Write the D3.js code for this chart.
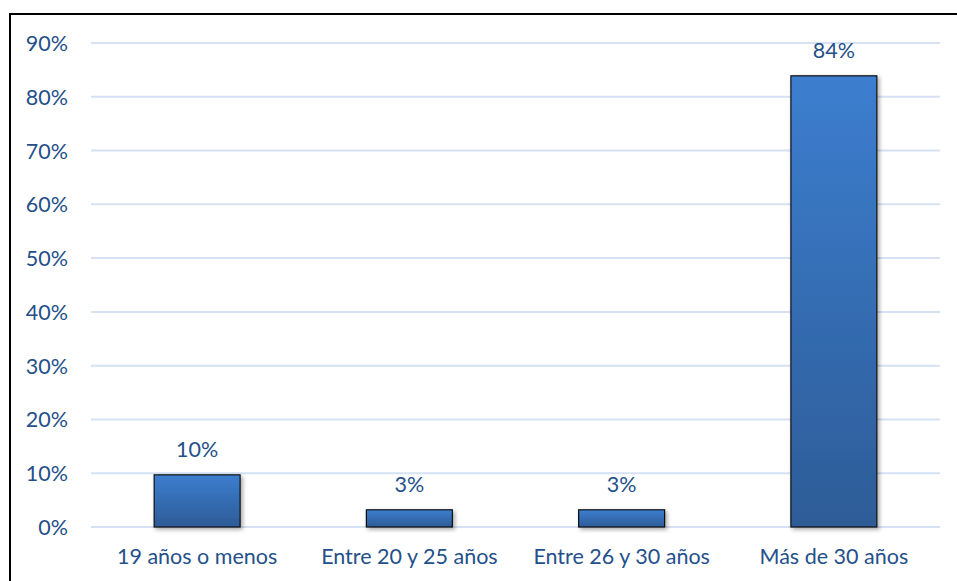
<!DOCTYPE html>
<html><head><meta charset="utf-8">
<script src="https://cdn.jsdelivr.net/npm/d3@7"></script>
<style>body{margin:0;background:#fff}svg{display:block}</style>
</head><body><svg id="c" width="957" height="581"></svg>
<script>
const categories = ["19 años o menos", "Entre 20 y 25 años", "Entre 26 y 30 años", "Más de 30 años"];
const values = [9.7, 3.2, 3.2, 83.9];
const valueLabels = ["10%", "3%", "3%", "84%"];
const yTicks = [0, 10, 20, 30, 40, 50, 60, 70, 80, 90];

const svg = d3.select("#c");
const W = 957, H = 581;
const m = {left: 91, right: 17, top: 43, bottom: 54};
const font = "Lato, 'Open Sans', sans-serif";
const txt = "#24508A";
const fs = 21.5;

const defs = svg.append("defs");
const g = defs.append("linearGradient").attr("id", "bg").attr("x1", 0).attr("y1", 0).attr("x2", 0).attr("y2", 1);
g.append("stop").attr("offset", "0%").attr("stop-color", "#3C7ECF");
g.append("stop").attr("offset", "100%").attr("stop-color", "#2D5C97");
const f = defs.append("filter").attr("id", "sh").attr("x", "-20%").attr("y", "-20%").attr("width", "150%").attr("height", "150%");
f.append("feDropShadow").attr("dx", 2).attr("dy", 2).attr("stdDeviation", 2).attr("flood-color", "#000").attr("flood-opacity", 0.35);

// frame
svg.append("rect").attr("x", 10).attr("y", 14).attr("width", W + 20).attr("height", H + 20)
  .attr("fill", "#fff").attr("stroke", "#000").attr("stroke-width", 2);

const x = d3.scaleBand().domain(categories).range([m.left, W - m.right]).paddingInner(0.595).paddingOuter(0.2975);
const y = d3.scaleLinear().domain([0, 90]).range([H - m.bottom, m.top]);

// gridlines
svg.append("g").selectAll("line").data(yTicks).join("line")
  .attr("x1", m.left).attr("x2", W - m.right)
  .attr("y1", d => y(d)).attr("y2", d => y(d))
  .attr("stroke", "#D6E2F3").attr("stroke-width", 2);

// y axis labels
const yAxis = d3.axisLeft(y).tickValues(yTicks).tickFormat(d => d + "%").tickSize(0).tickPadding(0);
const ya = svg.append("g").attr("transform", `translate(68,0)`).call(yAxis);
ya.select(".domain").remove();
ya.selectAll("text").attr("font-family", font).attr("font-size", fs).attr("fill", txt).attr("dy", "0.35em");

// bars
svg.append("g").selectAll("rect").data(values).join("rect")
  .attr("x", (d, i) => x(categories[i])).attr("width", x.bandwidth())
  .attr("y", d => y(d)).attr("height", d => y(0) - y(d))
  .attr("fill", "url(#bg)").attr("stroke", "#111").attr("stroke-width", 1.2)
  .attr("filter", "url(#sh)");

// value labels
svg.append("g").selectAll("text").data(values).join("text")
  .attr("x", (d, i) => x(categories[i]) + x.bandwidth() / 2)
  .attr("y", d => y(d) - 18)
  .attr("text-anchor", "middle").attr("font-family", font).attr("font-size", fs).attr("fill", txt)
  .text((d, i) => valueLabels[i]);

// x axis labels
const xAxis = d3.axisBottom(x).tickSize(0).tickPadding(0);
const xa = svg.append("g").attr("transform", `translate(0,${H - 17})`).call(xAxis);
xa.select(".domain").remove();
xa.selectAll("text").attr("font-family", font).attr("font-size", fs).attr("fill", txt).attr("dy", "0");
</script></body></html>
